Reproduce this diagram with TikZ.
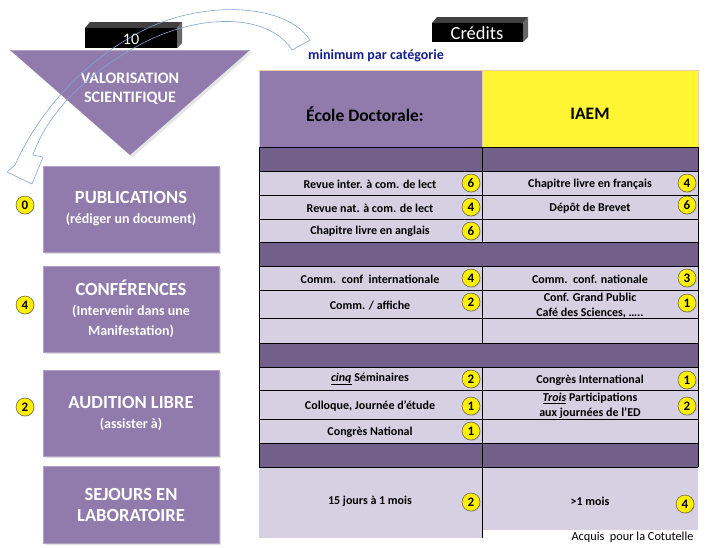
\documentclass[tikz,border=0pt]{standalone}
\usepackage{fontspec}
\setmainfont{Carlito}
\usetikzlibrary{shadows}
\definecolor{mauve}{RGB}{144,123,172}
\definecolor{mauvefonce}{RGB}{114,96,139}
\definecolor{lavande}{RGB}{214,208,226}
\definecolor{jaune}{RGB}{255,245,50}
\definecolor{pastillejaune}{RGB}{255,240,0}
\definecolor{bleuarc}{RGB}{130,165,210}
\definecolor{bleunuit}{RGB}{20,30,140}
\newcommand\soustitrefont{\fontsize{14}{18}\selectfont}
\tikzset{
  cellule/.style={font=\bfseries\fontsize{12}{15}\selectfont, align=center, inner sep=1pt},
  pastille/.style={circle, draw=black!75, fill=pastillejaune, inner sep=0pt, minimum size=18pt,
    font=\bfseries\fontsize{13}{13}\selectfont, drop shadow={opacity=0.25, shadow xshift=0.8pt, shadow yshift=-0.8pt}},
  boite/.style={fill=mauve, draw=mauve!70!white, minimum width=176pt, text=white, align=center,
    font=\bfseries\fontsize{18.5}{20}\selectfont, drop shadow={opacity=0.25}},
}
\begin{document}
\begin{tikzpicture}[x=1pt,y=-1pt]
    \useasboundingbox (0,0) rectangle (725,547);
    % triangle VALORISATION
    \fill[mauve, drop shadow={opacity=0.2}] (10,50) -- (250,50) -- (130,155) -- cycle;
    \draw[mauve!70!white] (10,50) -- (250,50);
    \node[text=white, align=center, font=\bfseries\fontsize{16}{19}\selectfont] (valo) at (130,89) {VALORISATION\\SCIENTIFIQUE};
    % boites noires
    \fill[black!75] (85,28) -- (90,22) -- (182,22) -- (177,28) -- cycle;
    \fill[black!60] (177,28) -- (182,22) -- (182,43) -- (177,48) -- cycle;
    \fill[black] (85,28) rectangle (177,48);
    \node[text=white, font=\fontsize{16}{16}\selectfont] (dix) at (131,39) {10};
    \fill[black!75] (432,23) -- (437,17) -- (528,17) -- (523,23) -- cycle;
    \fill[black!60] (523,23) -- (528,17) -- (528,37) -- (523,42) -- cycle;
    \fill[black] (432,23) rectangle (523,42);
    \node[text=white, font=\fontsize{18.5}{18.5}\selectfont] (credits) at (477,33) {Crédits};
    \node[text=bleunuit, font=\bfseries\fontsize{14}{14}\selectfont] (minimum) at (376,56) {minimum par catégorie};
    % boites de gauche
    \node[boite, minimum height=86pt] (publi) at (131,209) {PUBLICATIONS\\\soustitrefont(rédiger un document)};
    \node[boite, minimum height=86pt] (confe) at (131,309) {CONFÉRENCES\\\soustitrefont(Intervenir dans une\\\soustitrefont Manifestation)};
    \node[boite, minimum height=86pt] (audit) at (131,413) {AUDITION LIBRE\\\soustitrefont(assister à)};
    \node[boite, minimum height=77pt, font=\bfseries\fontsize{18.5}{21}\selectfont] (sejour) at (131,504.5) {SEJOURS EN\\LABORATOIRE};
    \foreach \n/\y/\v in {p/205/0,c/305/4,a/407/2} \node[pastille] (l\n) at (25,\y) {\v};
    % tableau
    \fill[mauve] (259,70) rectangle (482,147);
    \fill[jaune] (482,70) rectangle (698,147);
    \draw[orange!35!brown!40] (259,70) rectangle (698,147) (482,70) -- (482,147);
    \node[font=\bfseries\fontsize{17.5}{17.5}\selectfont] (ed) at (365,114) {École Doctorale:};
    \node[font=\bfseries\fontsize{17.5}{17.5}\selectfont] (iaem) at (590,114) {IAEM};
    \foreach \a/\b in {171/195,195/219,219/242,266/290,290/318,318/343,367/390,390/419,419/443} \fill[lavande] (259,\a) rectangle (698,\b);
    \fill[lavande] (259,467) rectangle (482,538);
    \fill[lavande] (482,467) rectangle (698,530);
    \foreach \a/\b in {147/171,242/266,343/367,443/467} \fill[mauvefonce] (259,\a) rectangle (698,\b);
    \foreach \y in {147,171,195,219,242,266,290,318,343,367,390,419,443,467} \draw[line width=0.6pt] (259,\y) -- (698,\y);
    \draw[line width=0.6pt] (259,147) -- (259,467) (698,147) -- (698,467);
    \foreach \a/\b in {147/242,266/343,367/538} \draw[line width=0.6pt] (482,\a) -- (482,\b);
    % textes colonne ED
    \foreach \n/\y/\txt in {1/184/{Revue inter. à com. de lect},2/208/{Revue nat. à com. de lect},3/231/{Chapitre livre en anglais},
      4/279/{Comm.\ \ conf\ \ internationale},5/306/{Comm. / affiche},7/379/{\underline{\itshape cinq} Séminaires},
      8/406/{Colloque, Journée d’étude},9/432/{Congrès National},10/501/{15 jours à 1 mois}}
      \node[cellule] (g\n) at (370,\y) {\txt};
    % textes colonne IAEM
    \foreach \n/\y/\txt in {1/184/{Chapitre livre en français},2/208/{Dépôt de Brevet},4/279/{Comm.\ \ conf. nationale},
      5/306/{Conf. Grand Public\\Café des Sciences, …..},7/380/{Congrès International},
      8/406/{\underline{\itshape Trois} Participations\\aux journées de l’ED},10/501/{>1 mois}}
      \node[cellule] (d\n) at (590,\y) {\txt};
    % credits
    \foreach \n/\y/\v in {1/183/6,2/207/4,3/231/6,4/278/4,5/302/2,7/379/2,8/406/1,9/431/1,10/502/2} \node[pastille] (pg\n) at (471,\y) {\v};
    \foreach \n/\y/\v in {1/183/4,2/205/6,4/278/3,5/303/1,7/380/1,8/406/2} \node[pastille] (pd\n) at (687,\y) {\v};
    \node[pastille] (pd10) at (685,504) {4};
    \node[anchor=east, font=\fontsize{12.3}{12.3}\selectfont] (cotutelle) at (697,537) {Acquis\ \ pour la Cotutelle};
    % fleche courbe
    \draw[bleuarc, line width=0.6pt, line join=round]
      (310,40) .. controls (285,2) and (200,0) .. (140,32) .. controls (90,58) and (42,105) .. (15,165)
      -- (7,172) -- (32,184) -- (43,157) -- (33,155)
      .. controls (50,105) and (100,65) .. (145,42) .. controls (205,12) and (270,15) .. (292,50) -- cycle;
\end{tikzpicture}
\end{document}
